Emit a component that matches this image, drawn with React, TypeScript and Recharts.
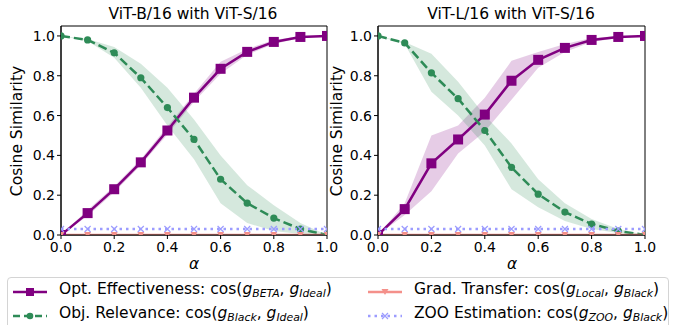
import React from 'react';
import { ComposedChart, Line, Area, XAxis, YAxis, ReferenceArea } from 'recharts';

// alpha values on the x axis
const alphas = [0, 0.1, 0.2, 0.3, 0.4, 0.5, 0.6, 0.7, 0.8, 0.9, 1.0];
const xTicks = [0, 0.2, 0.4, 0.6, 0.8, 1.0];
const yTicks = [0, 0.2, 0.4, 0.6, 0.8, 1.0];

// ViT-B/16 with ViT-S/16
const betaB = [0, 0.11, 0.23, 0.365, 0.525, 0.69, 0.835, 0.92, 0.97, 0.995, 1.0];
const betaBLo = [0, 0.095, 0.215, 0.35, 0.505, 0.67, 0.81, 0.905, 0.96, 0.99, 1.0];
const betaBHi = [0, 0.125, 0.245, 0.38, 0.545, 0.71, 0.87, 0.935, 0.98, 1.0, 1.0];
const objB = [1.0, 0.98, 0.915, 0.79, 0.64, 0.48, 0.28, 0.16, 0.085, 0.03, 0.0];
const objBLo = [1.0, 0.975, 0.89, 0.74, 0.55, 0.38, 0.16, 0.06, 0.02, 0.005, 0.0];
const objBHi = [1.0, 0.985, 0.945, 0.86, 0.74, 0.58, 0.4, 0.25, 0.15, 0.06, 0.0];

// ViT-L/16 with ViT-S/16
const betaL = [0, 0.13, 0.36, 0.48, 0.605, 0.775, 0.88, 0.94, 0.98, 0.995, 1.0];
const betaLLo = [0, 0.1, 0.22, 0.41, 0.52, 0.68, 0.84, 0.92, 0.97, 0.99, 1.0];
const betaLHi = [0, 0.16, 0.5, 0.55, 0.69, 0.875, 0.92, 0.96, 0.99, 1.0, 1.0];
const objL = [1.0, 0.965, 0.815, 0.685, 0.525, 0.34, 0.205, 0.115, 0.055, 0.02, 0.0];
const objLLo = [1.0, 0.96, 0.72, 0.6, 0.45, 0.23, 0.14, 0.07, 0.03, 0.01, 0.0];
const objLHi = [1.0, 0.97, 0.91, 0.77, 0.6, 0.46, 0.28, 0.16, 0.08, 0.03, 0.0];

// flat baselines, same in both panels
const grad = [0, 0, 0, 0, 0, 0, 0, 0, 0, 0, 0];
const zoo = [0.03, 0.03, 0.03, 0.03, 0.03, 0.03, 0.03, 0.03, 0.03, 0.03, 0.03];

const PURPLE = '#800080';
const GREEN = '#2e8b57';
const SALMON = '#f4908a';
const BLUE = '#9c9cff';
const FONT = '"DejaVu Sans", sans-serif';

const buildRows = (beta: number[], betaLo: number[], betaHi: number[], obj: number[], objLo: number[], objHi: number[]) =>
  alphas.map((a, i) => ({
    a,
    beta: beta[i],
    betaBand: [betaLo[i], betaHi[i]],
    obj: obj[i],
    objBand: [objLo[i], objHi[i]],
    grad: grad[i],
    zoo: zoo[i],
  }));

const dataB = buildRows(betaB, betaBLo, betaBHi, objB, objBLo, objBHi);
const dataL = buildRows(betaL, betaLLo, betaLHi, objL, objLLo, objLHi);

const SquareDot = (props: any) => {
  const { cx, cy, index } = props;
  if (cx == null || cy == null) return <g key={`s${index}`} />;
  return <rect key={`s${index}`} x={cx - 5} y={cy - 5} width={10} height={10} fill={PURPLE} />;
};

const CircleDot = (props: any) => {
  const { cx, cy, index } = props;
  if (cx == null || cy == null) return <g key={`c${index}`} />;
  return <circle key={`c${index}`} cx={cx} cy={cy} r={3.6} fill={GREEN} />;
};

const TriDot = (props: any) => {
  const { cx, cy, index } = props;
  if (cx == null || cy == null) return <g key={`t${index}`} />;
  return <path key={`t${index}`} d={`M${cx - 3.5},${cy - 3} L${cx + 3.5},${cy - 3} L${cx},${cy + 3} Z`} fill={SALMON} />;
};

const XDot = (props: any) => {
  const { cx, cy, index } = props;
  if (cx == null || cy == null) return <g key={`x${index}`} />;
  return (
    <path key={`x${index}`} d={`M${cx - 3},${cy - 3} L${cx + 3},${cy + 3} M${cx - 3},${cy + 3} L${cx + 3},${cy - 3}`}
      stroke={BLUE} strokeWidth={1.2} fill="none" />
  );
};

const fmt = (v: number) => v.toFixed(1);

type PanelProps = {
  data: any[];
  left: number;
  width: number;
  yWidth: number;
  marginRight: number;
};

const Panel = ({ data, left, width, yWidth, marginRight }: PanelProps) => (
  <div style={{ position: 'absolute', left, top: 0 }}>
    <ComposedChart width={width} height={260} data={data}
      margin={{ top: 26, right: marginRight, bottom: 0, left: 0 }}>
      <XAxis dataKey="a" type="number" domain={[0, 1]} ticks={xTicks} tickFormatter={fmt}
        allowDataOverflow height={25} tickSize={4} tickMargin={3}
        stroke="#000" tick={{ fill: '#000', fontSize: 14, fontFamily: FONT }} />
      <YAxis type="number" domain={[0, 1.05]} ticks={yTicks} tickFormatter={fmt}
        allowDataOverflow width={yWidth} tickSize={4} tickMargin={2}
        stroke="#000" tick={{ fill: '#000', fontSize: 14, fontFamily: FONT }} />
      <Area dataKey="betaBand" type="linear" stroke="none" fill={PURPLE} fillOpacity={0.2} isAnimationActive={false} />
      <Area dataKey="objBand" type="linear" stroke="none" fill={GREEN} fillOpacity={0.2} isAnimationActive={false} />
      <Line dataKey="beta" type="linear" stroke={PURPLE} strokeWidth={2.5} dot={SquareDot} activeDot={false} isAnimationActive={false} />
      <Line dataKey="obj" type="linear" stroke={GREEN} strokeWidth={2.5} strokeDasharray="9 4" dot={CircleDot} activeDot={false} isAnimationActive={false} />
      <Line dataKey="grad" type="linear" stroke={SALMON} strokeWidth={2.5} dot={TriDot} activeDot={false} isAnimationActive={false} />
      <Line dataKey="zoo" type="linear" stroke={BLUE} strokeWidth={2.5} strokeDasharray="2.5 4" dot={XDot} activeDot={false} isAnimationActive={false} />
      <ReferenceArea x1={0} x2={1} y1={0} y2={1.05} fill="none" stroke="#000" strokeWidth={1} ifOverflow="visible" />
    </ComposedChart>
  </div>
);

const textBase: React.CSSProperties = { position: 'absolute', fontFamily: FONT, color: '#000', whiteSpace: 'nowrap' };

const Centered = ({ x, y, size, children, rotate }: { x: number; y: number; size: number; children: React.ReactNode; rotate?: boolean }) => (
  <div style={{ ...textBase, left: x, top: y, fontSize: size, lineHeight: 1, transform: `translate(-50%, -50%)${rotate ? ' rotate(-90deg)' : ''}` }}>
    {children}
  </div>
);

const Sub = ({ children }: { children: React.ReactNode }) => (
  <span style={{ fontSize: '0.7em', fontStyle: 'italic', position: 'relative', top: '0.3em' }}>{children}</span>
);
const G = () => <span style={{ fontStyle: 'italic' }}>g</span>;

const Handle = ({ kind }: { kind: string }) => {
  const w = 34;
  const y = 6;
  const mid = w / 2;
  if (kind === 'beta') {
    return (
      <svg width={w} height={12}>
        <line x1={0} y1={y} x2={w} y2={y} stroke={PURPLE} strokeWidth={2.5} />
        <rect x={mid - 4} y={y - 4} width={8} height={8} fill={PURPLE} />
      </svg>
    );
  }
  if (kind === 'obj') {
    return (
      <svg width={w} height={12}>
        <line x1={0} y1={y} x2={w} y2={y} stroke={GREEN} strokeWidth={2.5} strokeDasharray="7 4" />
        <circle cx={mid} cy={y} r={3.3} fill={GREEN} />
      </svg>
    );
  }
  if (kind === 'grad') {
    return (
      <svg width={w} height={12}>
        <line x1={0} y1={y} x2={w} y2={y} stroke={SALMON} strokeWidth={2.5} />
        <path d={`M${mid - 3.5},${y - 3} L${mid + 3.5},${y - 3} L${mid},${y + 3} Z`} fill={SALMON} />
      </svg>
    );
  }
  return (
    <svg width={w} height={12}>
      <line x1={0} y1={y} x2={w} y2={y} stroke={BLUE} strokeWidth={2.5} strokeDasharray="2.5 4" />
      <path d={`M${mid - 3},${y - 3} L${mid + 3},${y + 3} M${mid - 3},${y + 3} L${mid + 3},${y - 3}`} stroke={BLUE} strokeWidth={1.2} />
    </svg>
  );
};

const LegendItem = ({ x, y, kind, children }: { x: number; y: number; kind: string; children: React.ReactNode }) => (
  <>
    <div style={{ position: 'absolute', left: x, top: y - 6, height: 12 }}>
      <Handle kind={kind} />
    </div>
    <div style={{ ...textBase, left: x + 46, top: y, fontSize: 15.5, lineHeight: 1, transform: 'translateY(-50%)' }}>
      {children}
    </div>
  </>
);

export default function App() {
  return (
    <div style={{ position: 'absolute', left: 0, top: 0, width: 673, height: 325, background: '#fff', overflow: 'hidden' }}>
      <Panel data={dataB} left={0} width={340} yWidth={61} marginRight={13} />
      <Panel data={dataL} left={330} width={330} yWidth={48} marginRight={15} />

      <Centered x={193} y={15} size={15.5}>ViT-B/16 with ViT-S/16</Centered>
      <Centered x={511} y={15} size={15.5}>ViT-L/16 with ViT-S/16</Centered>
      <Centered x={18} y={131} size={15.5} rotate>Cosine Similarity</Centered>
      <Centered x={338} y={131} size={15.5} rotate>Cosine Similarity</Centered>
      <Centered x={194} y={265} size={15.5}><i>α</i></Centered>
      <Centered x={512} y={265} size={15.5}><i>α</i></Centered>

      <div style={{ position: 'absolute', left: 7, top: 277, width: 662, height: 60, border: '1px solid #d4d4d4', borderRadius: 4, boxSizing: 'border-box' }} />
      <LegendItem x={13} y={290} kind="beta">
        Opt. Effectiveness: cos(<G /><Sub>BETA</Sub>, <G /><Sub>Ideal</Sub>)
      </LegendItem>
      <LegendItem x={13} y={314} kind="obj">
        Obj. Relevance: cos(<G /><Sub>Black</Sub>, <G /><Sub>Ideal</Sub>)
      </LegendItem>
      <LegendItem x={368} y={290} kind="grad">
        Grad. Transfer: cos(<G /><Sub>Local</Sub>, <G /><Sub>Black</Sub>)
      </LegendItem>
      <LegendItem x={368} y={314} kind="zoo">
        ZOO Estimation: cos(<G /><Sub>ZOO</Sub>, <G /><Sub>Black</Sub>)
      </LegendItem>
    </div>
  );
}
